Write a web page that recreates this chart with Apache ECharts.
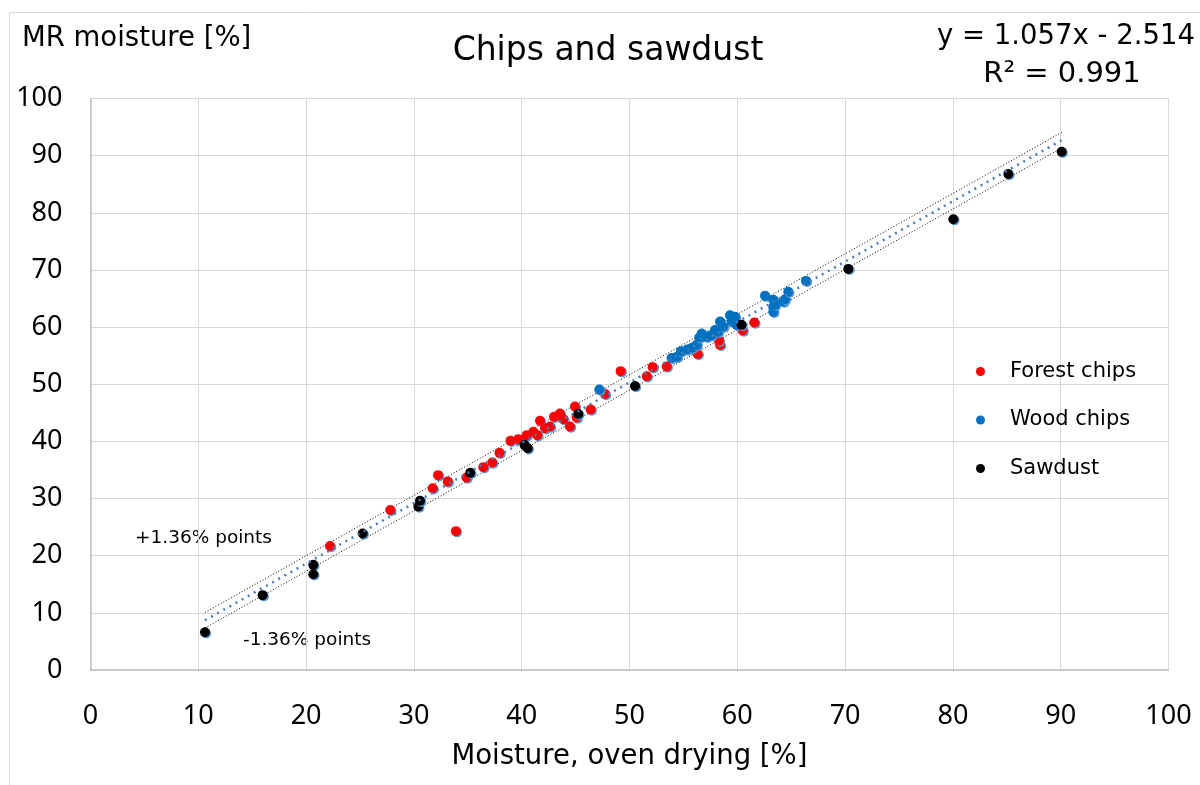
<!DOCTYPE html>
<html>
<head>
<meta charset="utf-8">
<script src="https://cdn.jsdelivr.net/npm/echarts@6/dist/echarts.min.js"></script>
<style>html,body{margin:0;padding:0;background:#fff}#c{width:1200px;height:785px}</style>
</head>
<body>
<div id="c"></div>
<script>
// ---- data ----
var forestX = [22.22, 27.81, 31.74, 32.24, 33.14, 33.90, 34.88, 36.44, 37.27, 37.94, 38.96, 39.68, 40.46, 41.08, 41.45, 41.70, 42.16, 42.63, 43.00, 43.55, 43.86, 44.48, 44.94, 45.10, 46.40, 47.73, 49.18, 51.60, 52.15, 53.45, 56.33, 58.40, 58.30, 60.50, 61.58];
var forestY = [21.7, 28.0, 31.8, 34.1, 33.0, 24.3, 33.7, 35.5, 36.3, 38.0, 40.1, 40.4, 41.1, 41.7, 41.1, 43.6, 42.3, 42.6, 44.3, 44.9, 43.9, 42.6, 46.1, 44.2, 45.6, 48.3, 52.3, 51.4, 53.0, 53.1, 55.3, 56.9, 57.6, 59.4, 60.8];
var woodX = [47.20, 53.90, 54.40, 54.78, 55.36, 55.80, 56.23, 56.47, 56.70, 57.16, 57.60, 57.93, 58.20, 58.40, 58.70, 59.32, 59.48, 59.79, 59.94, 62.57, 63.34, 63.34, 63.34, 63.50, 64.27, 64.42, 64.73, 66.37];
var woodY = [49.1, 54.6, 54.8, 55.8, 56.1, 56.4, 56.9, 58.2, 58.9, 58.3, 58.6, 59.5, 59.2, 61.0, 60.1, 62.1, 61.0, 61.8, 60.4, 65.5, 64.8, 63.5, 62.7, 63.9, 64.5, 64.9, 66.2, 68.1];
var sawX = [10.62, 15.97, 20.67, 20.67, 25.25, 30.41, 30.57, 35.23, 40.26, 40.56, 45.25, 50.51, 60.39, 70.30, 80.04, 85.14, 90.09];
var sawY = [6.6, 13.1, 18.4, 16.75, 23.9, 28.6, 29.6, 34.5, 39.4, 38.8, 44.8, 49.7, 60.4, 70.2, 78.9, 86.8, 90.7];
var seriesNames = ['Forest chips', 'Wood chips', 'Sawdust'];
var tickValues = [0, 10, 20, 30, 40, 50, 60, 70, 80, 90, 100];
// trend line from the equation shown on the chart
var slope = 1.057, intercept = -2.514, band = 1.36, r2 = 0.991;
var trendRange = [10.62, 90.09];

function pairs(xs, ys) { return xs.map(function (x, i) { return [x, ys[i]]; }); }
function lineData(off) { return trendRange.map(function (x) { return [x, slope * x + intercept + off]; }); }

var TICKFONT = 'Noto Sans';
var shadow = { shadowColor: '#5b9bd5', shadowBlur: 0, shadowOffsetX: 1.2, shadowOffsetY: 1.2 };

function scatter(name, data, color) {
  return {
    name: name, type: 'scatter', data: data, symbolSize: 10, z: 5,
    itemStyle: Object.assign({ color: color, opacity: 1 }, shadow)
  };
}

var chart = echarts.init(document.getElementById('c'), null, { renderer: 'canvas' });
chart.setOption({
  animation: false,
  backgroundColor: '#fff',
  textStyle: { fontFamily: 'DejaVu Sans' },
  title: {
    text: 'Chips and sawdust', left: 603, top: 30, textAlign: 'center',
    textStyle: { fontFamily: 'DejaVu Sans', fontSize: 33, fontWeight: 'normal', color: '#000' }
  },
  grid: { left: 90.5, right: 31.5, top: 98.6, bottom: 115 },
  legend: {
    data: seriesNames, orient: 'vertical', left: 971, top: 356, itemGap: 27.5,
    itemWidth: 9, itemHeight: 9, icon: 'circle',
    itemStyle: { shadowBlur: 0, shadowOffsetX: 0, shadowOffsetY: 0, shadowColor: 'rgba(0,0,0,0)' },
    textStyle: { fontFamily: 'DejaVu Sans', fontSize: 21, color: '#000', padding: [0, 0, 0, 20] }
  },
  xAxis: {
    type: 'value', min: 0, max: 100, interval: 10,
    name: 'Moisture, oven drying [%]', nameLocation: 'middle', nameGap: 73,
    nameTextStyle: { fontFamily: 'DejaVu Sans', fontSize: 27.5, color: '#000' },
    axisLine: { show: true, lineStyle: { color: '#bfbfbf', width: 1.5 } },
    axisTick: { show: false },
    axisLabel: { fontFamily: TICKFONT, fontSize: 27, color: '#000', margin: 33,
      formatter: function (v) { return tickValues.indexOf(v) >= 0 ? String(v) : ''; } },
    splitLine: { show: true, lineStyle: { color: '#d9d9d9', width: 1 } }
  },
  yAxis: {
    type: 'value', min: 0, max: 100, interval: 10,
    axisLine: { show: true, lineStyle: { color: '#bfbfbf', width: 1.5 } },
    axisTick: { show: false },
    axisLabel: { fontFamily: TICKFONT, fontSize: 27, color: '#000', margin: 28,
      formatter: function (v) { return tickValues.indexOf(v) >= 0 ? String(v) : ''; } },
    splitLine: { show: true, lineStyle: { color: '#d9d9d9', width: 1 } }
  },
  graphic: [
    { type: 'rect', shape: { x: 9.5, y: 12.5, width: 1300, height: 900 }, style: { fill: 'none', stroke: '#d9d9d9', lineWidth: 1 }, silent: true, z: -10 },
    { type: 'text', left: 22, top: 25, style: { text: 'MR moisture [%]', font: '27.5px "DejaVu Sans"', fill: '#000' } },
    { type: 'text', right: 5, top: 23, style: { text: 'y = ' + slope.toFixed(3) + 'x - ' + Math.abs(intercept).toFixed(3), font: '27.5px "DejaVu Sans"', fill: '#000' } },
    { type: 'text', x: 1062, y: 74, style: { text: 'R² = ' + r2.toFixed(3), font: '29px "DejaVu Sans"', fill: '#000', textAlign: 'center', textVerticalAlign: 'middle' } },
    { type: 'text', x: 135, y: 538, style: { text: '+1.36% points', font: '18.5px "DejaVu Sans"', fill: '#000', textVerticalAlign: 'middle' } },
    { type: 'text', x: 243, y: 640, style: { text: '-1.36% points', font: '18.5px "DejaVu Sans"', fill: '#000', textVerticalAlign: 'middle' } }
  ],
  series: [
    { name: 'upper', type: 'line', data: lineData(band), symbol: 'none', silent: true, z: 3,
      lineStyle: { color: '#000', width: 1, type: [1, 2] } },
    { name: 'lower', type: 'line', data: lineData(-band), symbol: 'none', silent: true, z: 3,
      lineStyle: { color: '#000', width: 1, type: [1, 2] } },
    { name: 'trend', type: 'line', data: lineData(0), symbol: 'none', silent: true, z: 6,
      lineStyle: { color: '#4a7ebb', width: 2.5, type: [2, 5] } },
    scatter(seriesNames[0], pairs(forestX, forestY), '#ff0000'),
    scatter(seriesNames[1], pairs(woodX, woodY), '#0070c0'),
    scatter(seriesNames[2], pairs(sawX, sawY), '#000000')
  ]
});
</script>
</body>
</html>
